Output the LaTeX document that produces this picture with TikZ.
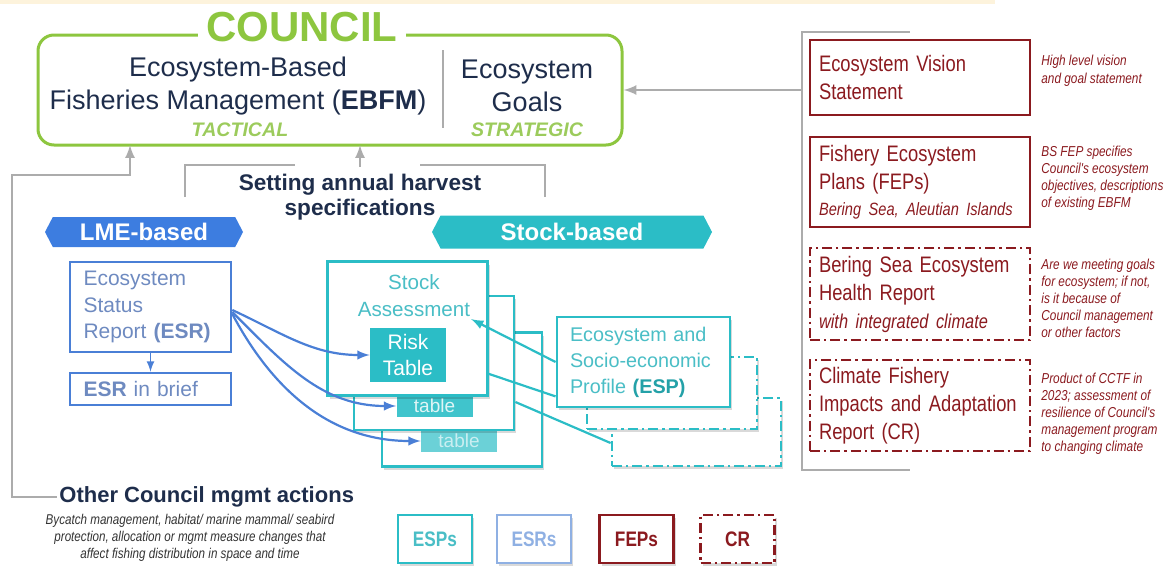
\documentclass[tikz,border=0pt]{standalone}
\usepackage{fontspec}
\setmainfont{Liberation Sans}
\newfontfamily\narrowfont{Liberation Sans}[FakeStretch=0.82]
\usetikzlibrary{shapes.symbols}
\usetikzlibrary{arrows}
\usetikzlibrary{shadows}
\usetikzlibrary{calc}

\definecolor{councilgreen}{HTML}{8DC63F}
\definecolor{tacgreen}{HTML}{9CCB5C}
\definecolor{navy}{HTML}{1E2D4B}
\definecolor{linegray}{HTML}{ACACAC}
\definecolor{fepred}{HTML}{8B1A1F}
\definecolor{lmeblue}{HTML}{3D7DE0}
\definecolor{esrblue}{HTML}{4A7FD6}
\definecolor{esrtext}{HTML}{6E8AC0}
\definecolor{stockteal}{HTML}{2BBDC6}
\definecolor{stocktext}{HTML}{4ABEC6}
\definecolor{legendblue}{HTML}{8FB0E3}
\definecolor{stripyellow}{HTML}{FDF3DC}

\newcommand{\setsz}[2]{\fontsize{#1}{#2}\selectfont}

\tikzset{
  graylink/.style={draw=linegray, line width=1.2pt},
  softshadow/.style={drop shadow={shadow xshift=1.2pt, shadow yshift=-1.5pt,
                     fill=black, opacity=0.15}},
  redbox/.style={draw=fepred, line width=1.2pt, text=fepred, align=left,
                 text width=101pt, inner xsep=4.5pt, font=\narrowfont\setsz{11.2}{14}},
  crdash/.style={dash pattern=on 5pt off 2pt on 1.2pt off 2pt},
  rednote/.style={anchor=west, align=left, text=fepred, inner sep=0pt,
                  font=\narrowfont\itshape\setsz{7.2}{8.5}},
  stockbox/.style={draw=stockteal, line width=1.4pt, fill=white,
                   minimum width=80pt, minimum height=67pt, softshadow},
  espbox/.style={draw=stockteal, line width=1.4pt, fill=white, softshadow},
  tablebox/.style={minimum width=38pt, minimum height=11pt, inner sep=0pt,
                   font=\setsz{9.5}{10}},
  banner/.style={signal, signal to=west and east, signal pointer angle=125,
                 text=white, inner sep=0pt, font=\bfseries\setsz{12}{14}},
  bluearrow/.style={draw=esrblue, line width=1.1pt, -latex},
  teallink/.style={draw=stockteal, line width=1.1pt},
  legendbox/.style={line width=1.4pt, minimum width=37pt, minimum height=24pt,
                    fill=white, softshadow, font=\narrowfont\bfseries\setsz{10.5}{12}}
}

\begin{document}
\begin{tikzpicture}[x=0.5pt, y=-0.5pt]
  \useasboundingbox (0,0) rectangle (1165,568);
  \fill[stripyellow] (0,0) rectangle (995,4);

  % council
  \node[draw=councilgreen, line width=1.5pt, rounded corners=8pt,
        minimum width=292pt, minimum height=55pt] (council) at (330,90) {};
  \node[fill=white, inner xsep=4pt, inner ysep=1pt, text=councilgreen,
        font=\bfseries\setsz{21}{24}] (councilttl) at (302,27) {COUNCIL};
  \node[align=center, text=navy, font=\setsz{13.5}{16.5}] (ebfm) at (238,86)
       {Ecosystem-Based\\Fisheries Management (\textbf{EBFM})};
  \node[text=tacgreen, font=\bfseries\itshape\setsz{9.8}{11}] (tactical) at (240,130) {TACTICAL};
  \node[align=center, text=navy, font=\setsz{13.5}{16.5}] (goals) at (527,86)
       {Ecosystem\\Goals};
  \node[text=tacgreen, font=\bfseries\itshape\setsz{9.8}{11}] (strategic) at (527,130) {STRATEGIC};
  \draw[linegray, line width=1pt] (443,50) -- (443,128);

  % right column
  \coordinate (brtopl) at (910,32);
  \coordinate (brbotl) at (910,470);
  \coordinate (brin) at (802,90);
  \draw[graylink] (brtopl) -- (802,32) -- (802,470) -- (brbotl);
  \draw[graylink, -latex] (brin) -- (council.east);

  \node[redbox, minimum height=37.5pt] (vision) at (920,77.5)
       {Ecosystem Vision\\Statement};
  \node[redbox, minimum height=45pt] (fep) at (920,182)
       {Fishery Ecosystem\\Plans (FEPs)\\[-1pt]{\itshape\setsz{8.9}{11}Bering Sea, Aleutian Islands}};
  \node[redbox, crdash, minimum height=46pt] (health) at (920,294)
       {Bering Sea Ecosystem\\Health Report\\{\itshape\setsz{10}{12}with integrated climate}};
  \node[redbox, crdash, minimum height=45.5pt] (cfiar) at (920,405.5)
       {Climate Fishery\\Impacts and Adaptation\\Report (CR)};

  \node[rednote, font=\narrowfont\itshape\setsz{7.2}{9}] (visionnote) at (1041,71)
       {High level vision\\and goal statement};
  \node[rednote] (fepnote) at (1041,178.5)
       {BS FEP specifies\\Council's ecosystem\\objectives, descriptions\\of existing EBFM};
  \node[rednote] (healthnote) at (1041,298.5)
       {Are we meeting goals\\for ecosystem; if not,\\is it because of\\Council management\\or other factors};
  \node[rednote] (crnote) at (1041,413.5)
       {Product of CCTF in\\2023; assessment of\\resilience of Council's\\management program\\to changing climate};

  % harvest specifications
  \node[align=center, text=navy, font=\bfseries\setsz{11.3}{12.5}] (harvest) at (360,197)
       {Setting annual harvest\\specifications};
  \coordinate (hvleft) at (185,197);
  \coordinate (hvright) at (545,197);
  \coordinate (stratin) at (360,145);
  \coordinate (tacin) at (130,145);
  \draw[graylink] (hvleft) |- (295,165);
  \draw[graylink] (hvright) |- (420,165);
  \draw[graylink, -latex] (harvest.north) -- (stratin);

  % banners
  \node[banner, fill=lmeblue, minimum width=99pt, minimum height=15pt] (lme) at (144,232) {LME-based};
  \node[banner, fill=stockteal, minimum width=140pt, minimum height=16.5pt] (stockban) at (572,232) {Stock-based};

  % LME side
  \node[draw=esrblue, line width=1.3pt, text=esrtext, align=left, text width=67pt,
        inner xsep=6.75pt, minimum height=45pt, font=\setsz{10.5}{13.25}] (esr) at (150.5,307)
       {Ecosystem\\Status\\Report \textbf{(ESR)}};
  \node[draw=esrblue, line width=1.3pt, text=esrtext, align=left, text width=67pt,
        inner xsep=6.75pt, minimum height=16pt, font=\setsz{10.5}{13}] (esrbrief) at (150.5,389)
       {\textbf{ESR} in brief};
  \draw[draw=esrblue, line width=0.8pt, -latex] (esr.south) -- (esrbrief.north);

  % stock assessments
  \node[stockbox] (stockc) at (462,399.5) {};
  \node[tablebox, fill=stockteal!70, text=stockteal!25] (tablec) at (459,441) {table};
  \node[stockbox] (stockb) at (434,363) {};
  \node[tablebox, fill=stockteal!90, text=white!85!stockteal] (tableb) at (434.5,406) {table};
  \node[stockbox] (stocka) at (407.5,328.5) {};
  \node[align=center, text=stocktext, font=\setsz{10.3}{13.5}] (stockttl) at (414,296)
       {Stock\\Assessment};
  \node[fill=stockteal, text=white, align=center, minimum width=38pt, minimum height=27pt,
        inner sep=0pt, font=\setsz{10.5}{13}] (riska) at (408,355) {Risk\\Table};

  % ESPs
  \node[espbox, crdash, minimum width=84.5pt, minimum height=34pt] (espc) at (696.5,432) {};
  \node[espbox, crdash, minimum width=85pt, minimum height=36pt] (espb) at (672,393) {};
  \node[espbox, text=stocktext, align=left, text width=73.5pt, inner xsep=6.5pt,
        minimum height=45pt, font=\setsz{9.9}{13}] (espa) at (643.5,362)
       {Ecosystem and\\Socio-economic\\Profile \textbf{\color{stockteal!85!black}(ESP)}};

  \draw[teallink, -latex] (espa.west) -- ($(stockttl.south east)+(-6,-5)$);
  \draw[teallink] ($(espa.south west)+(0,-12)$) -- ($(stocka.south east)+(0,-23)$);
  \draw[teallink] ($(stockb.east)+(0,39)$) -- ($(espc.west)+(0,11)$);

  \draw[bluearrow] ($(esr.east)+(0,3)$) to[out=-25, in=180] (riska.west);
  \draw[bluearrow] ($(esr.east)+(0,5)$) to[out=-45, in=180] (tableb.west);
  \draw[bluearrow] ($(esr.east)+(0,7)$) to[out=-62, in=180] (tablec.west);

  % other actions
  \node[anchor=west, text=navy, inner sep=1pt, font=\bfseries\setsz{11}{13}] (other) at (57,497)
       {Other Council mgmt actions};
  \node[align=center, text=black!80, inner sep=0pt, font=\narrowfont\itshape\setsz{7.1}{8.5}]
       (otherdesc) at (190,538)
       {Bycatch management, habitat/ marine mammal/ seabird\\protection, allocation or mgmt measure changes that\\affect fishing distribution in space and time};
  \draw[graylink, -latex] (other.west) -| (12,175) -| (tacin);

  % legend
  \node[legendbox, draw=stockteal, text=stocktext] (lgesp) at (435,539) {ESPs};
  \node[legendbox, draw=legendblue, text=legendblue] (lgesr) at (534,539) {ESRs};
  \node[legendbox, draw=fepred, text=fepred] (lgfep) at (636.5,539) {FEPs};
  \node[legendbox, crdash, draw=fepred, text=fepred] (lgcr) at (737.5,539) {CR};
\end{tikzpicture}
\end{document}
